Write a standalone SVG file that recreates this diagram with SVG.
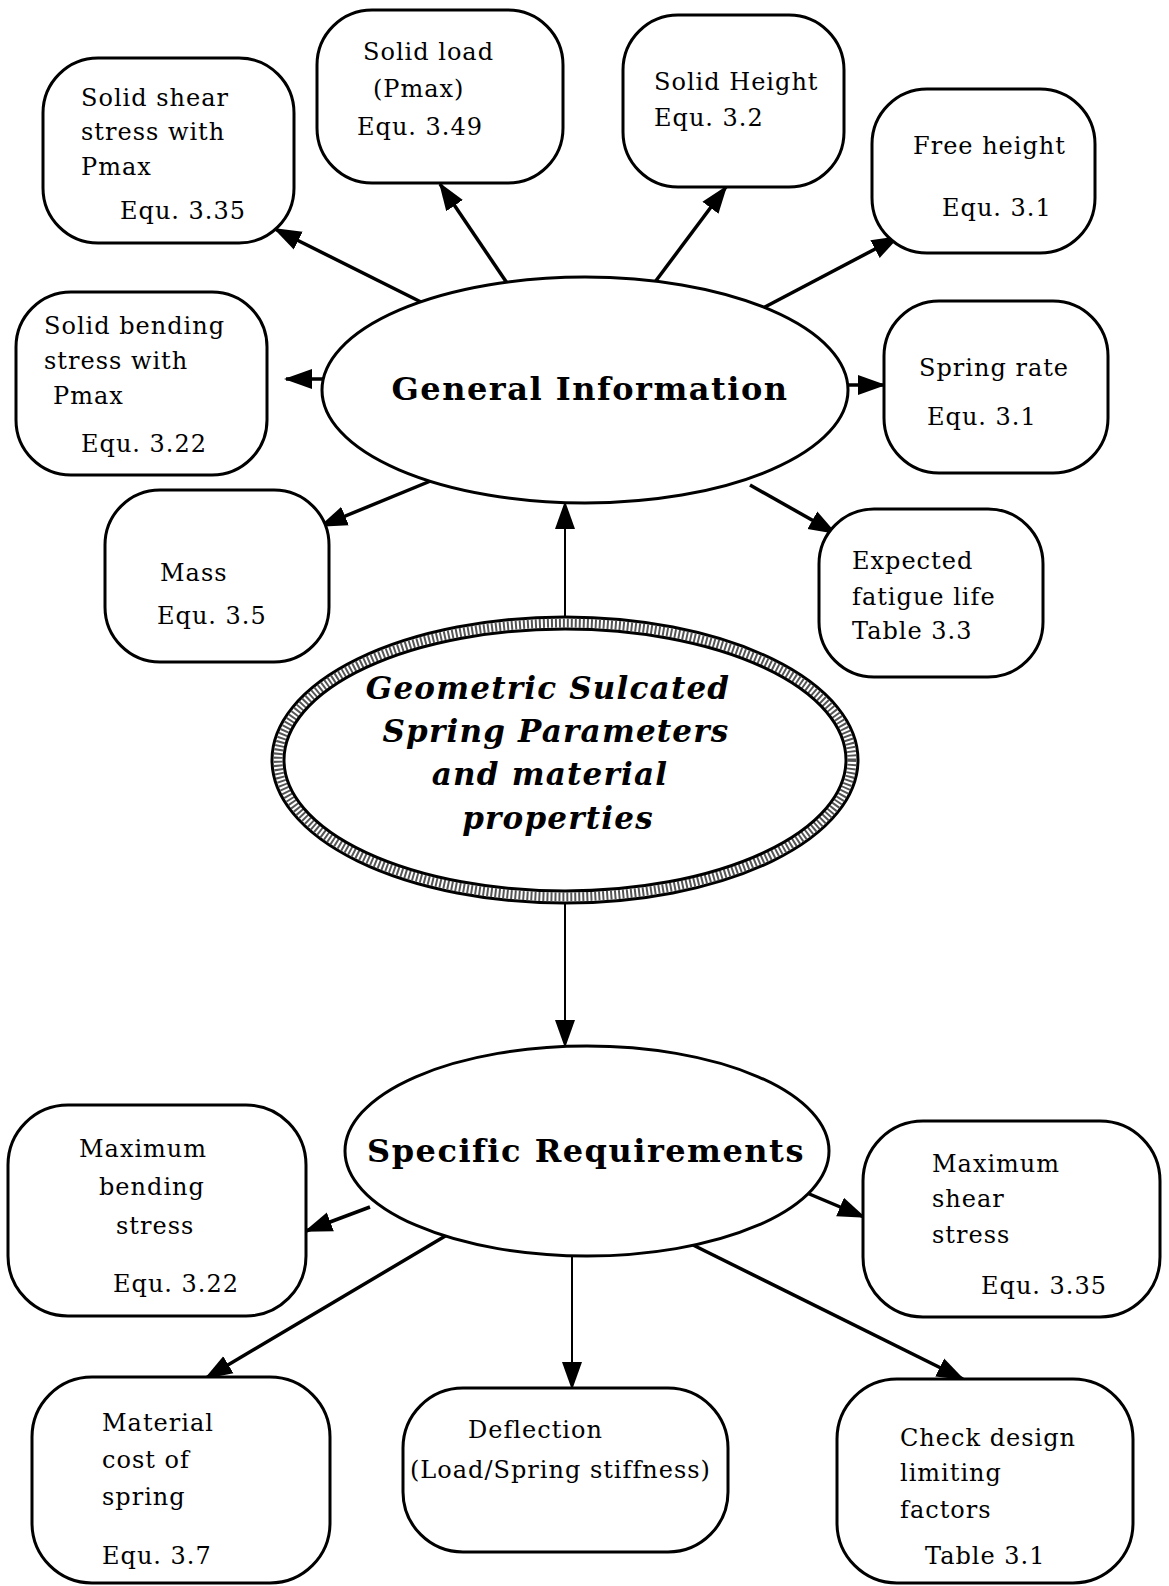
<svg xmlns="http://www.w3.org/2000/svg" width="1169" height="1586" viewBox="0 0 1169 1586">
<defs>
<marker id="ah" markerUnits="userSpaceOnUse" markerWidth="28" markerHeight="24" viewBox="0 0 28 24" refX="26" refY="12" orient="auto">
<path d="M0,2 L28,12 L0,22 Z" fill="#000"/>
</marker>
<style>
.box{fill:#fff;stroke:#000;stroke-width:3}
.ell{fill:#fff;stroke:#000;stroke-width:3}
.t{font-family:"DejaVu Serif","Liberation Serif",serif;font-size:24px;letter-spacing:1px;fill:#000}
.big{font-family:"DejaVu Serif","Liberation Serif",serif;font-size:32px;font-weight:bold;letter-spacing:1.5px;fill:#000;text-anchor:middle}
.geo{font-family:"DejaVu Serif","Liberation Serif",serif;font-size:31px;font-weight:bold;font-style:italic;letter-spacing:1.2px;fill:#000;text-anchor:middle}
.c{stroke:#000;stroke-width:3.5;fill:none;marker-end:url(#ah)}
.thin{stroke:#000;stroke-width:2;fill:none;marker-end:url(#ah)}
</style>
</defs>
<rect width="1169" height="1586" fill="#fff"/>
<g id="connectors">
<line class="c" x1="423" y1="303" x2="275" y2="229"/>
<line class="c" x1="507" y1="283" x2="440" y2="184"/>
<line class="c" x1="652" y1="286" x2="726" y2="187"/>
<line class="c" x1="763" y1="308" x2="898" y2="237"/>
<line class="c" x1="326" y1="379" x2="286" y2="379"/>
<line class="c" x1="847" y1="385" x2="884" y2="385"/>
<line class="c" x1="433" y1="480" x2="321" y2="526"/>
<line class="c" x1="750" y1="485" x2="835" y2="533"/>
<line class="thin" x1="565" y1="617" x2="565" y2="503"/>
<line class="thin" x1="565" y1="903" x2="565" y2="1046"/>
<line class="c" x1="370" y1="1207" x2="306" y2="1231"/>
<line class="c" x1="807" y1="1193" x2="864" y2="1217"/>
<line class="c" x1="447" y1="1235" x2="206" y2="1378"/>
<line class="thin" x1="572" y1="1257" x2="572" y2="1388"/>
<line class="c" x1="693" y1="1245" x2="963" y2="1379"/>
</g>
<g id="solid-shear">
<rect class="box" x="43" y="58" width="251" height="185" rx="55"/>
<text class="t" x="81" y="106">Solid shear</text>
<text class="t" x="81" y="140">stress with</text>
<text class="t" x="81" y="175">Pmax</text>
<text class="t" x="120" y="219">Equ. 3.35</text>
</g>
<g id="solid-load">
<rect class="box" x="317" y="10" width="246" height="173" rx="55"/>
<text class="t" x="363" y="60">Solid load</text>
<text class="t" x="373" y="97">(Pmax)</text>
<text class="t" x="357" y="135">Equ. 3.49</text>
</g>
<g id="solid-height">
<rect class="box" x="623" y="15" width="221" height="172" rx="55"/>
<text class="t" x="654" y="90">Solid Height</text>
<text class="t" x="654" y="126">Equ. 3.2</text>
</g>
<g id="free-height">
<rect class="box" x="872" y="89" width="223" height="164" rx="55"/>
<text class="t" x="913" y="154">Free height</text>
<text class="t" x="942" y="216">Equ. 3.1</text>
</g>
<g id="solid-bending">
<rect class="box" x="16" y="292" width="251" height="183" rx="55"/>
<text class="t" x="44" y="334">Solid bending</text>
<text class="t" x="44" y="369">stress with</text>
<text class="t" x="53" y="404">Pmax</text>
<text class="t" x="81" y="452">Equ. 3.22</text>
</g>
<g id="spring-rate">
<rect class="box" x="884" y="301" width="224" height="172" rx="55"/>
<text class="t" x="919" y="376">Spring rate</text>
<text class="t" x="927" y="425">Equ. 3.1</text>
</g>
<g id="mass">
<rect class="box" x="105" y="490" width="224" height="172" rx="55"/>
<text class="t" x="160" y="581">Mass</text>
<text class="t" x="157" y="624">Equ. 3.5</text>
</g>
<g id="fatigue">
<rect class="box" x="819" y="509" width="224" height="168" rx="55"/>
<text class="t" x="852" y="569">Expected</text>
<text class="t" x="852" y="605">fatigue life</text>
<text class="t" x="852" y="639">Table 3.3</text>
</g>
<g id="general-information">
<ellipse class="ell" cx="585" cy="390" rx="263" ry="113"/>
<text class="big" x="590" y="400">General  Information</text>
</g>
<g id="geometric">
<ellipse cx="565" cy="760" rx="293" ry="143" fill="#fff" stroke="#000" stroke-width="3"/>
<ellipse cx="565" cy="760" rx="287" ry="137" fill="none" stroke="#555" stroke-width="9" stroke-dasharray="2 2"/>
<ellipse cx="565" cy="760" rx="281" ry="131" fill="#fff" stroke="#000" stroke-width="3"/>
<text class="geo" x="548" y="699">Geometric  Sulcated</text>
<text class="geo" x="556" y="742">Spring  Parameters</text>
<text class="geo" x="550" y="785">and  material</text>
<text class="geo" x="558" y="829">properties</text>
</g>
<g id="specific-requirements">
<ellipse class="ell" cx="587" cy="1151" rx="242" ry="105"/>
<text class="big" x="586" y="1162">Specific  Requirements</text>
</g>
<g id="max-bending">
<rect class="box" x="8" y="1105" width="298" height="211" rx="60"/>
<text class="t" x="79" y="1157">Maximum</text>
<text class="t" x="99" y="1195">bending</text>
<text class="t" x="116" y="1234">stress</text>
<text class="t" x="113" y="1292">Equ. 3.22</text>
</g>
<g id="max-shear">
<rect class="box" x="863" y="1121" width="297" height="196" rx="60"/>
<text class="t" x="932" y="1172">Maximum</text>
<text class="t" x="932" y="1207">shear</text>
<text class="t" x="932" y="1243">stress</text>
<text class="t" x="981" y="1294">Equ. 3.35</text>
</g>
<g id="material-cost">
<rect class="box" x="32" y="1377" width="298" height="206" rx="60"/>
<text class="t" x="102" y="1431">Material</text>
<text class="t" x="102" y="1468">cost of</text>
<text class="t" x="102" y="1505">spring</text>
<text class="t" x="102" y="1564">Equ. 3.7</text>
</g>
<g id="deflection">
<rect class="box" x="403" y="1388" width="325" height="164" rx="60"/>
<text class="t" x="468" y="1438">Deflection</text>
<text class="t" x="410" y="1478">(Load/Spring stiffness)</text>
</g>
<g id="check-design">
<rect class="box" x="837" y="1379" width="296" height="204" rx="60"/>
<text class="t" x="900" y="1446">Check design</text>
<text class="t" x="900" y="1481">limiting</text>
<text class="t" x="900" y="1518">factors</text>
<text class="t" x="925" y="1564">Table 3.1</text>
</g>
</svg>
